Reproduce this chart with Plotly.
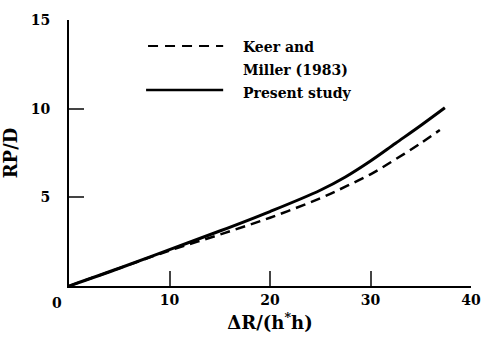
import plotly.graph_objects as go

x_present = [0, 5, 10, 15, 20, 25, 27.5, 30, 32.5, 35, 37.4]
y_present = [0, 1.0, 2.05, 3.1, 4.2, 5.4, 6.15, 7.05, 8.05, 9.05, 10.05]
x_keer = [0, 5, 10, 15, 20, 25, 27.5, 30, 32.5, 35, 36.9]
y_keer = [0, 1.0, 2.0, 2.9, 3.85, 4.95, 5.6, 6.3, 7.15, 8.05, 8.8]
x_ticks = [10, 20, 30, 40]
y_ticks = [5, 10, 15]

FONT = "DejaVu Serif"

fig = go.Figure()
fig.add_trace(go.Scatter(x=x_keer, y=y_keer, mode="lines", line=dict(color="black", width=2.5, dash="10px,6px"),
                         line_shape="spline", showlegend=False))
fig.add_trace(go.Scatter(x=x_present, y=y_present, mode="lines", line=dict(color="black", width=3),
                         line_shape="spline", showlegend=False))

fig.update_layout(
    width=491, height=343,
    margin=dict(l=69, r=10, t=20, b=57),
    paper_bgcolor="white", plot_bgcolor="white",
    font=dict(family=FONT, size=14, color="black", weight="bold"),
    xaxis=dict(range=[0, 40], tickvals=x_ticks, ticks="inside", ticklen=15, tickwidth=1.5,
               showline=True, linewidth=2, linecolor="black", showgrid=False, zeroline=False,
               tickfont=dict(family=FONT, size=14, color="black", weight="bold"),
               title=dict(text="ΔR/(h<sup>*</sup>h)", font=dict(family=FONT, size=18, weight="bold"), standoff=10)),
    yaxis=dict(range=[0, 15], tickvals=y_ticks, ticks="inside", ticklen=15, tickwidth=1.5,
               showline=True, linewidth=2, linecolor="black", showgrid=False, zeroline=False,
               ticklabelstandoff=14,
               tickfont=dict(family=FONT, size=14, color="black", weight="bold"),
               title=dict(text="RP/D", font=dict(family=FONT, size=18, weight="bold"), standoff=8)),
)

# x=0 label
fig.add_annotation(x=0, y=0, xref="x", yref="y", text="0", showarrow=False, xshift=-12, yshift=-17,
                   font=dict(family=FONT, size=14, weight="bold"))

# custom legend
fig.add_shape(type="line", xref="paper", yref="paper", x0=(150-69)/412, x1=(227-69)/412,
              y0=(286-46)/266, y1=(286-46)/266, line=dict(color="black", width=2, dash="10px,7px"))
fig.add_shape(type="line", xref="paper", yref="paper", x0=(148-69)/412, x1=(227-69)/412,
              y0=(286-90)/266, y1=(286-90)/266, line=dict(color="black", width=2.5))
for txt, py in [("Keer and", 47), ("Miller (1983)", 70), ("Present study", 93)]:
    fig.add_annotation(x=(245-69)/412, y=(286-py)/266, xref="paper", yref="paper", text=txt,
                       showarrow=False, xanchor="left", yanchor="middle",
                       font=dict(family=FONT, size=14, weight="bold"))

fig.write_html("out.html")
